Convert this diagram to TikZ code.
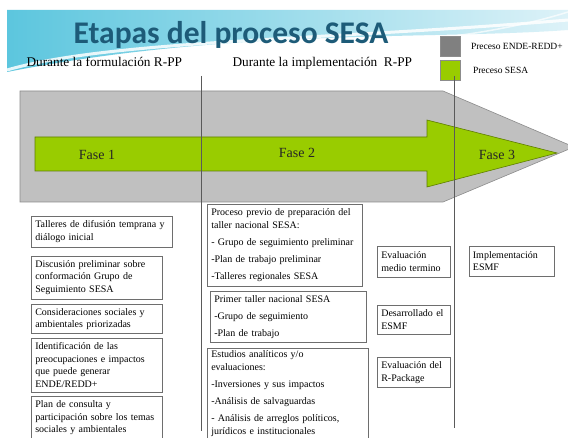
\documentclass[tikz,border=0pt]{standalone}
\usepackage{fontspec}
\setmainfont{Liberation Serif}
\newfontfamily\titlefont{Carlito}
\usetikzlibrary{positioning, calc}
\definecolor{sesagreen}{HTML}{99CC00}
\definecolor{sesagreenline}{HTML}{5E7D00}
\definecolor{reddgray}{HTML}{C0C0C0}
\definecolor{reddgrayline}{HTML}{8C8C8C}
\definecolor{legendgray}{HTML}{808080}
\definecolor{titleteal}{HTML}{1D5B78}
\definecolor{waveblue}{HTML}{5CC6DE}
\definecolor{wavepale}{HTML}{DDF2F8}
\definecolor{dividerline}{HTML}{5A5A5A}
\definecolor{boxline}{HTML}{6E6E6E}

\begin{document}
\begin{tikzpicture}[
        x=1pt, y=-1pt,
        stepnote/.style={
            draw=boxline,
            line width=0.6pt,
            fill=white,
            anchor=north west,
            align=left,
            inner xsep=4pt,
            inner ysep=2pt,
            font=\fontsize{10}{12.5}\selectfont
        },
        stepnotewide/.style={
            stepnote,
            font=\fontsize{10}{13}\selectfont
        },
        fasetext/.style={font=\fontsize{14}{16}\selectfont, text=black!85},
        subtitle/.style={font=\fontsize{13.3}{15}\selectfont, anchor=base west},
        legendtext/.style={font=\fontsize{9.5}{11}\selectfont, anchor=west},
        legendkey/.style={draw=black!45, line width=0.5pt, minimum width=20pt, minimum height=20pt, anchor=north west},
        divider/.style={draw=dividerline, line width=0.7pt}
    ]
        \useasboundingbox (0,0) rectangle (568,438);
        \clip (0,0) rectangle (568,438);
        \fill[white] (0,0) rectangle (568,438);

        \shade[left color=waveblue, right color=wavepale]
            (7,10) -- (568,10) -- (568,30)
            .. controls (430,40) and (230,28) .. (7,72) -- cycle;
        \draw[white, line width=3pt, opacity=0.85]
            (7,70) .. controls (110,40) and (330,40) .. (568,20);
        \draw[white, line width=1.5pt, opacity=0.7]
            (420,40) .. controls (480,34) and (530,24) .. (568,12);

        \node[font=\titlefont\bfseries\fontsize{31.5}{33}\selectfont, text=titleteal, anchor=base]
            (title) at (231,44) {Etapas del proceso SESA};
        \node[subtitle] (formulacion) at (23,67) {Durante la formulación R-PP};
        \node[subtitle] (implementacion) at (229,67) {Durante la implementación~ R-PP};

        \node[legendkey, fill=legendgray] (keyredd) at (440,36) {};
        \node[legendkey, fill=sesagreen, below=4pt of keyredd] (keysesa) {};
        \node[legendtext, right=7pt of keyredd] (labelredd) {Preceso ENDE-REDD+};
        \node[legendtext, right=9pt of keysesa] (labelsesa) {Preceso SESA};

        \draw[fill=reddgray, draw=reddgrayline, line width=0.6pt]
            (20,91) -- (443,91) -- (574,147) -- (443,202) -- (20,202) -- cycle;
        \draw[fill=sesagreen, draw=sesagreenline, line width=0.6pt]
            (35,137) -- (427,137) -- (427,120) -- (557,153)
            -- (427,187) -- (427,171) -- (35,171) -- cycle;

        \node[fasetext] (fase1) at (97,155) {Fase 1};
        \node[fasetext] (fase2) at (297,153) {Fase 2};
        \node[fasetext] (fase3) at (497,155) {Fase 3};

        \coordinate (formtop) at (201,76);
        \coordinate (formbottom) at (201,431);
        \coordinate (impltop) at (454,76);
        \coordinate (implbottom) at (454,428);
        \draw[divider] (formtop) -- (formbottom);
        \draw[divider] (impltop) -- (implbottom);

        \node[stepnote, text width=133pt, minimum height=31pt] (talleres) at (31,216)
            {Talleres de difusión temprana y\\diálogo inicial};
        \node[stepnote, text width=123pt, minimum height=43pt,
            below=8pt of talleres.south west, anchor=north west] (discusion)
            {Discusión preliminar sobre\\conformación Grupo de\\Seguimiento SESA};
        \node[stepnote, text width=123pt, minimum height=29pt,
            below=5pt of discusion.south west, anchor=north west] (consideraciones)
            {Consideraciones sociales y\\ambientales priorizadas};
        \node[stepnote, text width=123pt, minimum height=54pt,
            below=4pt of consideraciones.south west, anchor=north west] (identificacion)
            {Identificación de las\\preocupaciones e impactos\\que puede generar\\ENDE/REDD+};
        \node[stepnote, text width=123pt, minimum height=42pt,
            below=4pt of identificacion.south west, anchor=north west] (consulta)
            {Plan de consulta y\\participación sobre los temas\\sociales y ambientales};

        \node[stepnotewide, text width=147pt, minimum height=82pt] (previo) at (207,204)
            {Proceso previo de preparación del\\taller nacional SESA:\\[4pt]
            - Grupo de seguimiento preliminar\\[4pt]
            -Plan de trabajo preliminar\\[4pt]
            -Talleres regionales SESA};
        \node[stepnotewide, text width=148pt, minimum height=51pt] (primer) at (210,291)
            {Primer taller nacional SESA\\[4pt]
            -Grupo de seguimiento\\[4pt]
            -Plan de trabajo};
        \node[stepnotewide, text width=153pt, minimum height=96pt] (estudios) at (207,348)
            {Estudios analíticos y/o\\evaluaciones:\\[4pt]
            -Inversiones y sus impactos\\[4pt]
            -Análisis de salvaguardas\\[4pt]
            - Análisis de arreglos políticos,\\jurídicos e institucionales\\[6pt]\mbox{}};

        \node[stepnote, text width=65pt, minimum height=31pt] (medio) at (377,246)
            {Evaluación\\medio termino};
        \node[stepnote, text width=65pt, minimum height=29pt,
            below=27pt of medio.south west, anchor=north west] (desarrollado)
            {Desarrollado el\\ESMF};
        \node[stepnote, text width=65pt, minimum height=30pt,
            below=23pt of desarrollado.south west, anchor=north west] (rpackage)
            {Evaluación del\\R-Package};
        \node[stepnote, text width=77pt, minimum height=30pt,
            right=18pt of medio.north east, anchor=north west] (esmf)
            {Implementación\\ESMF};
    \end{tikzpicture}
\end{document}
